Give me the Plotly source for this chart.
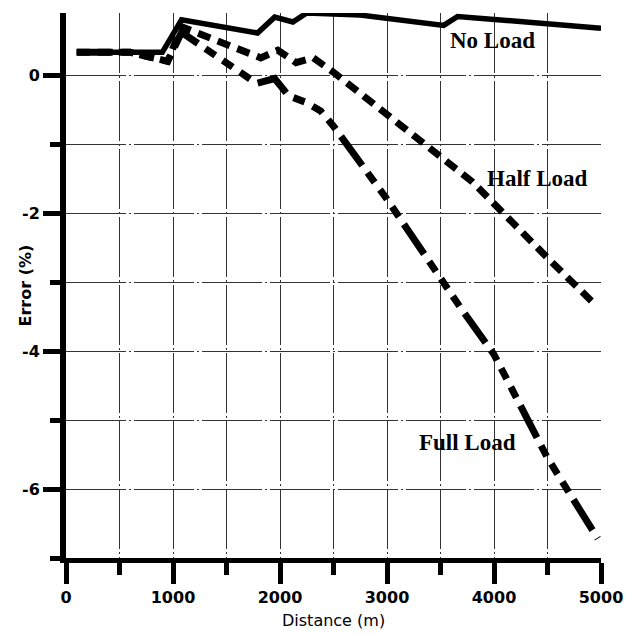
import plotly.graph_objects as go

# Measured error versus distance for three loading conditions
no_load_x = [100, 900, 1080, 1790, 1950, 2120, 2250, 2750, 3530, 3660, 5000]
no_load_y = [0.33, 0.33, 0.80, 0.61, 0.84, 0.77, 0.90, 0.87, 0.72, 0.85, 0.68]

half_load_x = [100, 600, 950, 1080, 1820, 1980, 2150, 2310, 2500, 3000, 3550, 3800, 4500, 4960]
half_load_y = [0.33, 0.33, 0.20, 0.70, 0.25, 0.36, 0.18, 0.25, 0.04, -0.58, -1.27, -1.55, -2.65, -3.35]

full_load_x = [100, 600, 950, 1080, 1780, 1950, 2080, 2250, 2380, 2500, 3000, 3520, 3700, 4000, 4500, 4970]
full_load_y = [0.33, 0.33, 0.20, 0.62, -0.12, -0.05, -0.30, -0.40, -0.52, -0.74, -1.80, -3.00, -3.40, -4.05, -5.55, -6.72]

x_ticks = [0, 1000, 2000, 3000, 4000, 5000]
y_ticks = [0, -2, -4, -6]
y_tick_text = ["0", "-2", "-4", "-6"]
y_minor = [-1, -3, -5, -7]

labels = ["No Load", "Half Load", "Full Load"]
label_x = [3990, 4410, 3750]
label_y = [0.50, -1.50, -5.32]

fig = go.Figure()
fig.add_trace(go.Scatter(x=no_load_x, y=no_load_y, mode="lines",
                         line=dict(color="black", width=5.5)))
fig.add_trace(go.Scatter(x=half_load_x, y=half_load_y, mode="lines",
                         line=dict(color="black", width=7, dash="13px,8px")))
fig.add_trace(go.Scatter(x=full_load_x, y=full_load_y, mode="lines",
                         line=dict(color="black", width=7,
                                   dash="36px,9px,12px,9px,12px,9px,12px,9px")))

for txt, lx, ly in zip(labels, label_x, label_y):
    fig.add_annotation(x=lx, y=ly, text=txt, showarrow=False,
                       font=dict(family="Liberation Serif", size=23,
                                 color="black", weight="bold"))

grid_dash = "60px,3px,2px,3px"
tick_font = dict(family="DejaVu Sans", size=16, color="black", weight="bold")

fig.update_xaxes(
    range=[0, 5000], tickmode="array", tickvals=x_ticks,
    ticks="outside", ticklen=21, tickwidth=5, tickcolor="black",
    tickfont=tick_font, automargin=False,
    showline=True, linewidth=5, linecolor="black",
    showgrid=True, gridcolor="#333", gridwidth=1, griddash=grid_dash,
    zeroline=False,
    minor=dict(dtick=500, tick0=0, ticks="outside", ticklen=12, tickwidth=5,
               tickcolor="black", showgrid=True, gridcolor="#333",
               gridwidth=1, griddash=grid_dash),
)
fig.update_yaxes(
    range=[-7, 0.9], tickmode="array", tickvals=y_ticks, ticktext=y_tick_text,
    ticks="outside", ticklen=17, tickwidth=5, tickcolor="black",
    tickfont=tick_font, automargin=False,
    showline=True, linewidth=6, linecolor="black",
    showgrid=True, gridcolor="#333", gridwidth=1, griddash=grid_dash,
    zeroline=False,
    minor=dict(tickmode="array", tickvals=y_minor, ticks="outside", ticklen=10,
               tickwidth=5, tickcolor="black", showgrid=True, gridcolor="#333",
               gridwidth=1, griddash=grid_dash),
)

# Axis titles
fig.add_annotation(xref="paper", yref="paper", x=0, y=0.5, xshift=-41,
                   xanchor="center", yanchor="middle",
                   text="Error (%)", textangle=-90, showarrow=False,
                   font=dict(family="DejaVu Sans", size=16, color="black",
                             weight="bold"))
fig.add_annotation(xref="paper", yref="paper", x=0.5, y=0, yshift=-62,
                   xanchor="center", yanchor="middle",
                   text="Distance (m)", showarrow=False,
                   font=dict(family="DejaVu Sans", size=16, color="black"))

fig.update_layout(
    width=628, height=637,
    margin=dict(l=66, r=27, t=13, b=79),
    paper_bgcolor="white", plot_bgcolor="white",
    showlegend=False,
)

fig.write_html("out.html")
